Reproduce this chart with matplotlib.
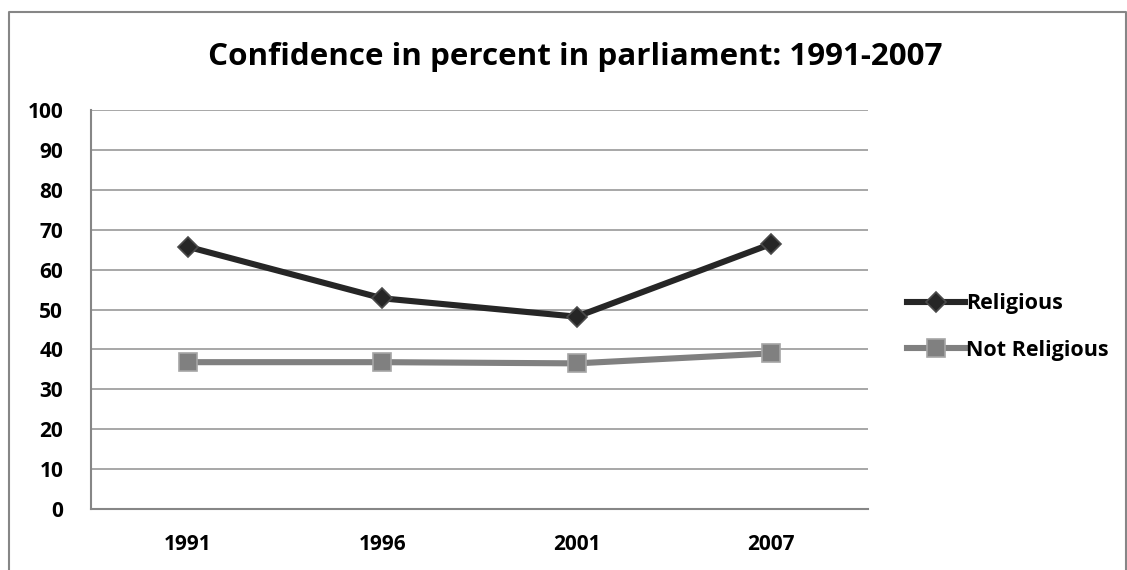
import matplotlib
matplotlib.use("Agg")
import matplotlib.pyplot as plt
from matplotlib.lines import Line2D

years = ["1991", "1996", "2001", "2007"]
religious = [65.7, 52.8, 48.2, 66.4]
not_religious = [36.8, 36.8, 36.5, 39.0]
y_ticks = [0, 10, 20, 30, 40, 50, 60, 70, 80, 90, 100]
title = "Confidence in percent in parliament: 1991-2007"

W, H = 1127, 570
fig = plt.figure(figsize=(W / 100, H / 100), dpi=100)
fig.patch.set_facecolor("white")

FONT = "Open Sans"
LABEL_SIZE = 15

# outer chart frame (extends past the bottom edge)
frame = Line2D([9 / W, 9 / W, 1126 / W, 1126 / W],
               [-0.05, 1 - 11.5 / H, 1 - 11.5 / H, -0.05],
               transform=fig.transFigure, color="#868686", lw=1.5)
fig.add_artist(frame)

ax = fig.add_axes([91 / W, (H - 509) / H, (868 - 91) / W, (509 - 110) / H])
x = list(range(len(years)))

ax.plot(x, religious, color="#262626", lw=4.4, marker="D", markersize=10.3,
        markerfacecolor="#262626", markeredgecolor="#4a4a4a", markeredgewidth=1.2,
        label="Religious", zorder=4)
ax.plot(x, not_religious, color="#808080", lw=4.4, marker="s", markersize=13.5,
        markerfacecolor="#808080", markeredgecolor="#a6a6a6", markeredgewidth=1.2,
        label="Not Religious", zorder=3)

ax.set_xlim(-0.5, len(years) - 0.5)
ax.set_ylim(0, 100)
ax.set_yticks(y_ticks)
ax.set_yticklabels([str(v) for v in y_ticks])
ax.set_xticks(x)
ax.set_xticklabels(years)
ax.yaxis.grid(True, color="#a0a0a0", lw=1.3)
ax.set_axisbelow(True)
ax.tick_params(axis="both", length=0, labelsize=LABEL_SIZE)
ax.tick_params(axis="y", pad=20)
ax.tick_params(axis="x", pad=18)
for lab in ax.get_xticklabels() + ax.get_yticklabels():
    lab.set_fontfamily(FONT)
    lab.set_fontweight("bold")
for s in ["top", "right"]:
    ax.spines[s].set_visible(False)
for s in ["left", "bottom"]:
    ax.spines[s].set_color("#868686")
    ax.spines[s].set_linewidth(1.5)

# title sized to span the chart header
t = fig.text(575 / W, 1 - 65 / H, title, ha="center", va="baseline",
             fontsize=22, fontweight="bold", fontfamily=FONT)
renderer = fig.canvas.get_renderer()
w = t.get_window_extent(renderer).width
t.set_fontsize(22 * 734 / w)

leg = ax.legend(loc="center left", bbox_to_anchor=(907 / W, 1 - 327 / H),
                bbox_transform=fig.transFigure, frameon=False, borderpad=0,
                borderaxespad=0,
                prop={"family": FONT, "weight": "bold", "size": 15.5},
                handlelength=2.7, handletextpad=0.05, labelspacing=1.2)

fig.savefig("out.png", dpi=100, facecolor="white")
